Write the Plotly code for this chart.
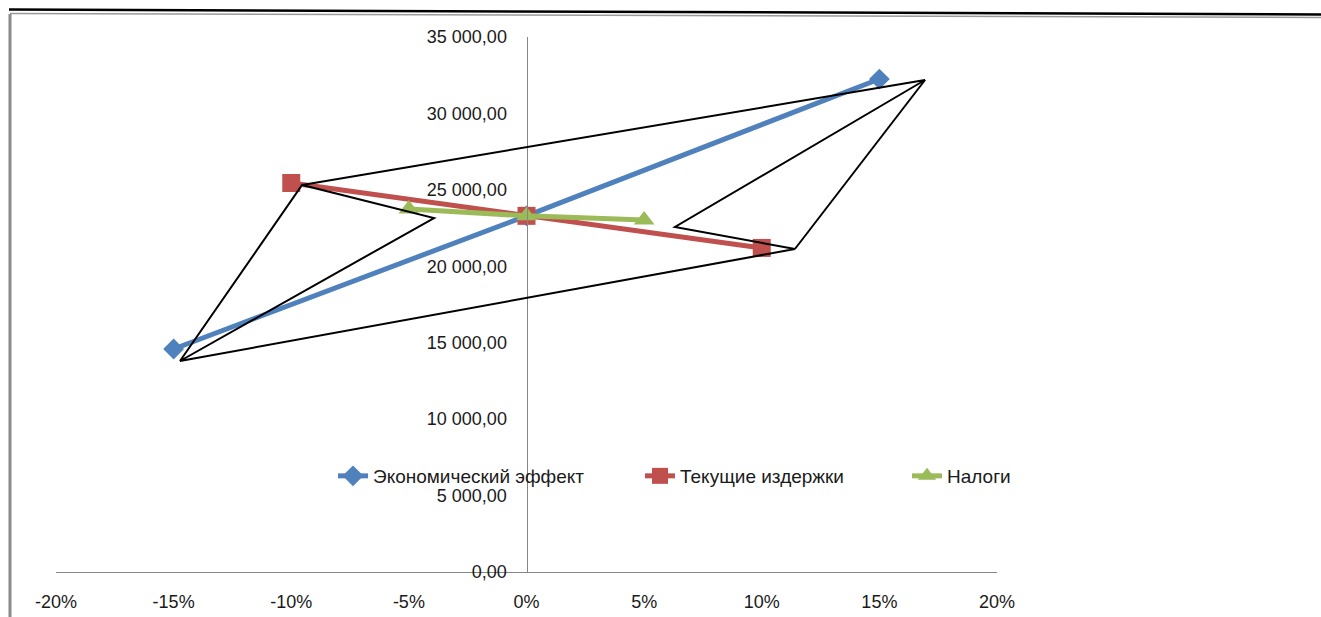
import plotly.graph_objects as go

# Sensitivity of the indicators to a change of each factor
econ_x = [-0.15, 0.0, 0.15]
econ_y = [14590, 23300, 32250]

costs_x = [-0.10, 0.0, 0.10]
costs_y = [25450, 23300, 21200]

tax_x = [-0.05, 0.0, 0.05]
tax_y = [23750, 23300, 23030]

x_tickvals = [-0.20, -0.15, -0.10, -0.05, 0.0, 0.05, 0.10, 0.15, 0.20]
x_ticktext = ["-20%", "-15%", "-10%", "-5%", "0%", "5%", "10%", "15%", "20%"]
y_tickvals = [0, 5000, 10000, 15000, 20000, 25000, 30000, 35000]
y_ticktext = ["0,00", "5 000,00", "10 000,00", "15 000,00", "20 000,00",
              "25 000,00", "30 000,00", "35 000,00"]

# Hand-drawn outline over the plot (x as fraction, y in value units)
outline = [(-0.1473, 13804), (-0.0954, 25318), (-0.0393, 23159), (-0.1473, 13804),
           (0.1141, 21131), (0.0631, 22570), (0.1694, 32187), (-0.0954, 25318)]
outline_tail = [(0.1694, 32187), (0.1141, 21131)]

W, H = 1321, 617
ML, MR, MT, MB = 56, 324, 37, 45
FONT = "Liberation Sans"
TXT = "#1a1a1a"
AXIS = "#868686"

fig = go.Figure()

fig.add_trace(go.Scatter(
    x=econ_x, y=econ_y, name="Экономический эффект", mode="lines+markers",
    line=dict(color="#4F81BD", width=5),
    marker=dict(symbol="diamond", size=16, color="#4F81BD"),
    legend="legend",
))
fig.add_trace(go.Scatter(
    x=costs_x, y=costs_y, name="Текущие издержки", mode="lines+markers",
    line=dict(color="#C0504D", width=5),
    marker=dict(symbol="square", size=18, color="#C0504D"),
    legend="legend2",
))
fig.add_trace(go.Scatter(
    x=tax_x, y=tax_y, name="Налоги", mode="lines+markers",
    line=dict(color="#9BBB59", width=5),
    marker=dict(symbol="triangle-up", size=18, color="#9BBB59"),
    legend="legend3",
))


def path_of(points):
    return "M " + " L ".join(f"{x},{y}" for x, y in points)


shapes = [
    dict(type="path", xref="x", yref="y", path=path_of(outline),
         line=dict(color="black", width=2), fillcolor="rgba(0,0,0,0)"),
    dict(type="path", xref="x", yref="y", path=path_of(outline_tail),
         line=dict(color="black", width=2)),
]


# Page frame around the chart (pixel positions converted to paper units)
def px(xp):
    return (xp - ML) / (W - ML - MR)


def py(yp):
    return (H - MB - yp) / (H - MT - MB)


shapes += [
    dict(type="line", xref="paper", yref="paper", x0=px(10), y0=py(14),
         x1=px(10), y1=py(620), line=dict(color="#8a8a8a", width=3)),
    dict(type="line", xref="paper", yref="paper", x0=px(10), y0=py(13.5),
         x1=px(1325), y1=py(17.5), line=dict(color="#9a9a9a", width=1.5)),
    dict(type="line", xref="paper", yref="paper", x0=px(9), y0=py(9.5),
         x1=px(1325), y1=py(14.5), line=dict(color="black", width=2.5)),
]

legend_common = dict(
    orientation="h", yanchor="middle", xanchor="left",
    y=py(476), bgcolor="rgba(0,0,0,0)", visible=True,
    font=dict(family=FONT, size=19, color=TXT),
)

fig.update_layout(
    width=W, height=H,
    margin=dict(l=ML, r=MR, t=MT, b=MB, autoexpand=False),
    paper_bgcolor="white", plot_bgcolor="white",
    separators=", ",
    showlegend=True,
    font=dict(family=FONT, size=18, color=TXT),
    xaxis=dict(
        range=[-0.2, 0.2], tickvals=x_tickvals, ticktext=x_ticktext,
        showgrid=False, zeroline=False, showline=True, linecolor=AXIS,
        linewidth=1, ticks="", ticklabelstandoff=13, automargin=False,
        tickfont=dict(family=FONT, size=18, color=TXT),
    ),
    yaxis=dict(
        range=[0, 35000], tickvals=y_tickvals, ticktext=y_ticktext,
        anchor="free", position=0.5, automargin=False,
        showgrid=False, zeroline=False, showline=True, linecolor=AXIS,
        linewidth=1, ticks="", ticklabelstandoff=16,
        tickfont=dict(family=FONT, size=18, color=TXT),
    ),
    shapes=shapes,
    legend=dict(x=px(333), **legend_common),
    legend2=dict(x=px(640), **legend_common),
    legend3=dict(x=px(907), **legend_common),
)

fig.write_html("out.html")
